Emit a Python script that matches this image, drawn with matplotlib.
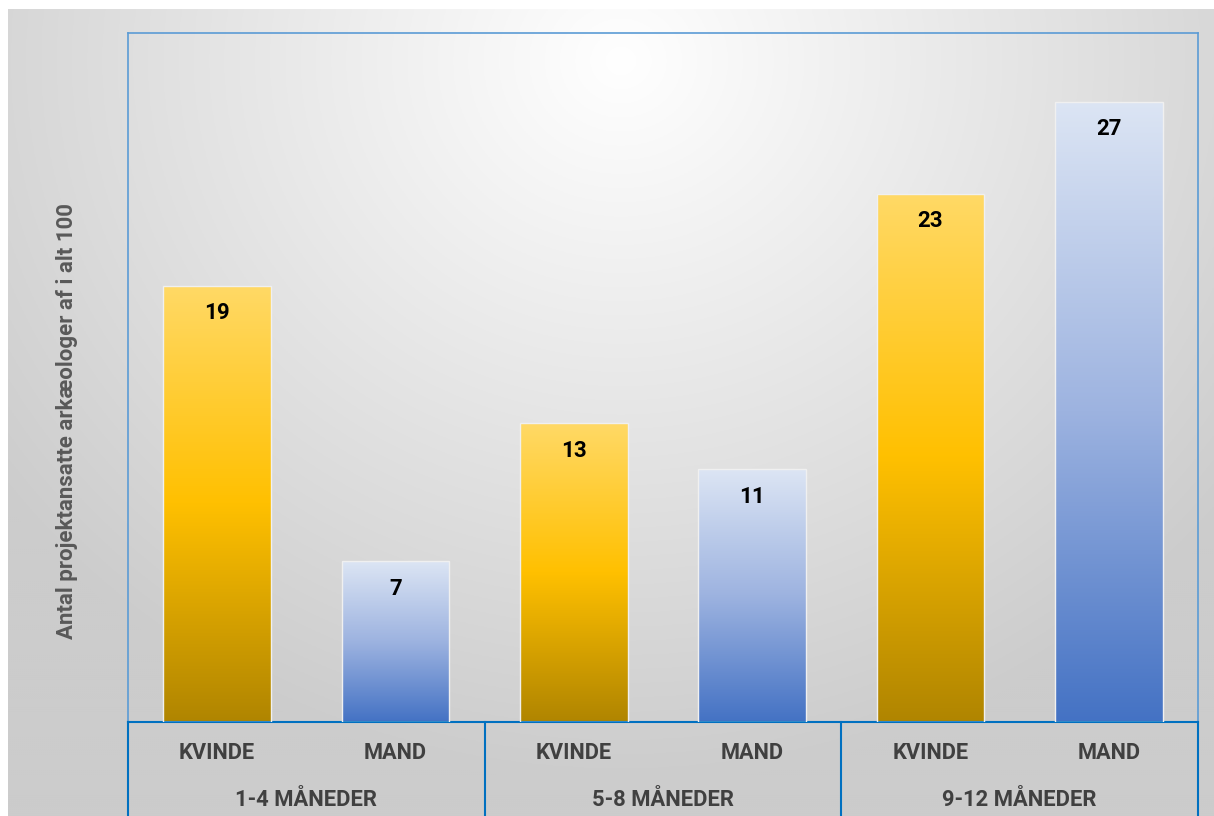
import numpy as np
import matplotlib
matplotlib.use("Agg")
import matplotlib.pyplot as plt
from matplotlib.colors import LinearSegmentedColormap
from matplotlib.patches import Rectangle
from matplotlib import font_manager as fm

groups = ["1-4 MÅNEDER", "5-8 MÅNEDER", "9-12 MÅNEDER"]
genders = ["KVINDE", "MAND"]
kvinde = [19, 13, 23]
mand = [7, 11, 27]
ylabel = "Antal projektansatte arkæologer af i alt 100"

bold_file = None
for f in fm.findSystemFonts():
    n = f.replace("\\", "/").split("/")[-1].lower()
    if n in ("roboto-bold.ttf", "roboto-bold.otf"):
        bold_file = f
        break


def fp(size):
    if bold_file:
        return fm.FontProperties(fname=bold_file, size=size)
    return fm.FontProperties(family=["Roboto", "DejaVu Sans"], weight="bold", size=size)


W, H = 1214, 816
fig = plt.figure(figsize=(W / 100, H / 100), dpi=100)
fig.patch.set_facecolor("white")

# background gradient (chart area), computed in pixel space
bg = fig.add_axes([8 / W, 0, 1 - 8 / W, (H - 9) / H])
bg.set_axis_off()
yy, xx = np.mgrid[9:H:2, 8:W:2]
d = np.sqrt(((xx - 620) / 700.0) ** 2 + ((yy - 60) / 650.0) ** 2)
val = np.clip(1.0 - 0.18 * d, 0.80, 1.0)
bg.imshow(np.dstack([val, val, val]), aspect="auto", extent=[0, 1, 0, 1], origin="upper")
bg.set_xlim(0, 1); bg.set_ylim(0, 1)

ax = fig.add_axes([128 / W, (H - 722) / H, (1198 - 128) / W, (722 - 33) / H])
ax.patch.set_alpha(0)

yel = LinearSegmentedColormap.from_list("y", ["#B08500", "#FFC000", "#FFD966"])
blu = LinearSegmentedColormap.from_list("b", ["#4472C4", "#9DB3E0", "#DCE5F4"])

bw = 0.605
grad = np.linspace(0, 1, 256).reshape(-1, 1)
cats = []
for gi in range(len(groups)):
    cats += [(gi * 2 + 0.5, kvinde[gi], yel), (gi * 2 + 1.5, mand[gi], blu)]
for x, v, cm in cats:
    x0 = x - bw / 2
    rect = Rectangle((x0, 0), bw, v, facecolor="none", edgecolor="#f0f0f0", lw=1.0, zorder=3)
    ax.add_patch(rect)
    im = ax.imshow(grad, cmap=cm, extent=[x0, x0 + bw, 0, v], origin="lower",
                   aspect="auto", zorder=2)
    im.set_clip_path(rect)
    ax.text(x, v - 1.2, str(v), ha="center", va="center", fontproperties=fp(16),
            color="black", zorder=4)
ax.set_aspect("auto")
ax.set_xlim(0, 6)
ax.set_ylim(0, 30)

for s in ["top", "left", "right"]:
    ax.spines[s].set_color("#5B9BD5")
    ax.spines[s].set_linewidth(1.2)
ax.spines["bottom"].set_color("#0070C0")
ax.spines["bottom"].set_linewidth(1.5)
ax.set_xticks([])
ax.set_yticks([])

# category table below axis
ph = 722 - 33
ybot = -(H - 722) / ph * 30
for xb in [0, 2, 4, 6]:
    ax.plot([xb, xb], [0, ybot], color="#0070C0", lw=1.5, clip_on=False, zorder=5)
for gi, g in enumerate(groups):
    for k, gen in enumerate(genders):
        ax.text(gi * 2 + 0.5 + k, -(753 - 722) / ph * 30, gen, ha="center", va="center",
                fontproperties=fp(15.7), color="#404040")
    ax.text(gi * 2 + 1, -(800 - 722) / ph * 30, g, ha="center", va="center",
            fontproperties=fp(15.8), color="#404040")

fig.text(67 / W, 1 - 421 / H, ylabel, rotation=90, ha="center", va="center",
         fontproperties=fp(16), color="#595959")

fig.savefig("out.png", dpi=100)
